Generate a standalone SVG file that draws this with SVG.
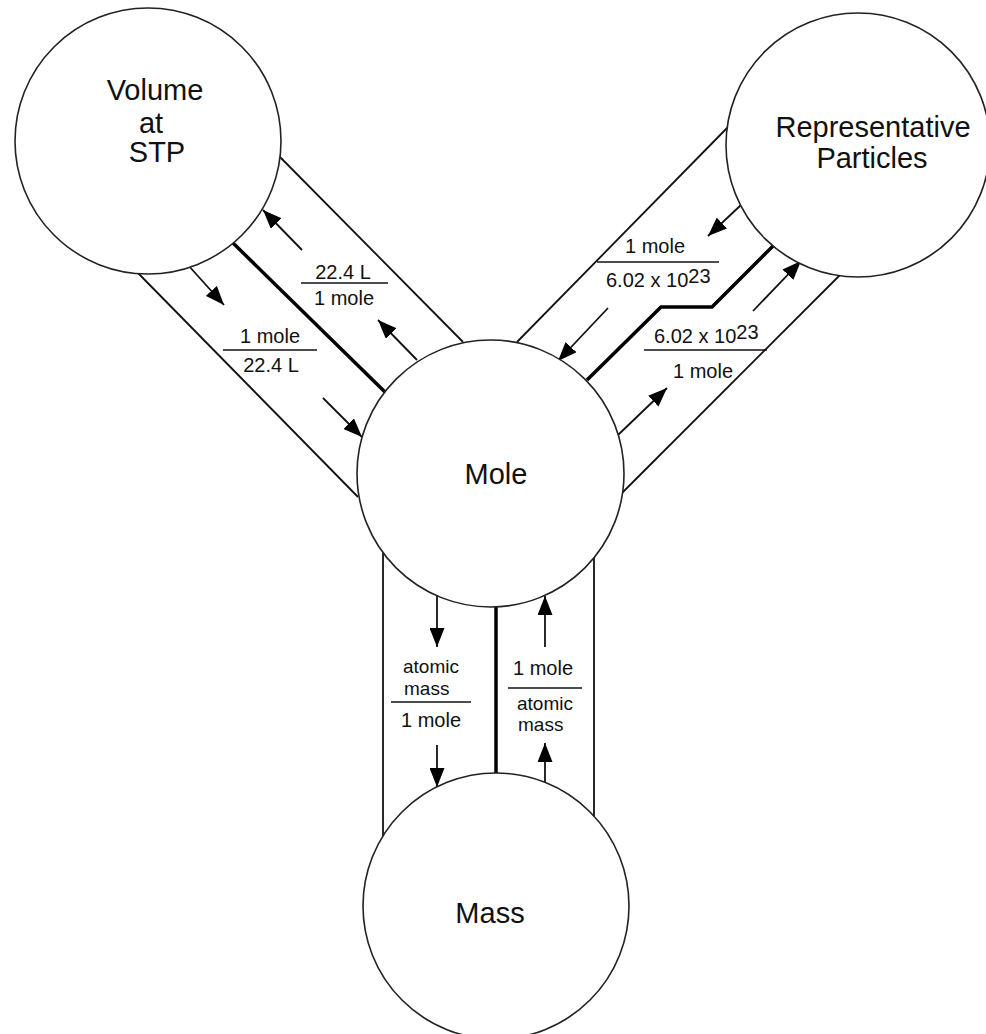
<svg xmlns="http://www.w3.org/2000/svg" width="986" height="1034" viewBox="0 0 986 1034">
<defs>
<marker id="ah" markerUnits="userSpaceOnUse" markerWidth="19" markerHeight="15" refX="19" refY="7.5" orient="auto">
<path d="M0,0 L19,7.5 L0,15 z" fill="#000"/>
</marker>
<style>
.node circle{fill:#fff;stroke:#222;stroke-width:1.6}
.nt{font-family:"Liberation Sans",Arial,sans-serif;font-size:29px;fill:#111;text-anchor:middle}
.lb{font-family:"Liberation Sans",Arial,sans-serif;font-size:20px;fill:#111}
.sm{font-family:"Liberation Sans",Arial,sans-serif;font-size:19px;fill:#111}
.c{text-anchor:middle}
.wall{stroke:#111;stroke-width:1.8;fill:none}
.thick{stroke:#000;stroke-width:3.5;fill:none}
.arr{stroke:#111;stroke-width:1.8;fill:none;marker-end:url(#ah)}
.frac{stroke:#111;stroke-width:1.6}
</style>
</defs>
<rect width="986" height="1034" fill="#fff"/>
<g id="connectors">
<!-- Volume - Mole channel -->
<line class="wall" x1="280" y1="157" x2="463" y2="342"/>
<line class="wall" x1="137" y1="272" x2="358" y2="497"/>
<line class="thick" x1="233" y1="243" x2="385" y2="392"/>
<line class="arr" x1="302" y1="250" x2="263" y2="210"/>
<line class="arr" x1="417" y1="360" x2="378" y2="320"/>
<line class="arr" x1="188" y1="265" x2="224" y2="305"/>
<line class="arr" x1="323" y1="398" x2="362" y2="437"/>
<!-- Representative Particles - Mole channel -->
<line class="wall" x1="517" y1="342" x2="728" y2="127"/>
<line class="wall" x1="622" y1="493" x2="840" y2="275"/>
<polyline class="thick" points="587,380 661,307 712,307 774,245"/>
<line class="arr" x1="741" y1="205" x2="708" y2="236"/>
<line class="arr" x1="608" y1="308" x2="558" y2="361"/>
<line class="arr" x1="618" y1="435" x2="667" y2="388"/>
<line class="arr" x1="753" y1="311" x2="801" y2="261"/>
<!-- Mole - Mass channel -->
<line class="wall" x1="383" y1="553" x2="383" y2="836"/>
<line class="wall" x1="594" y1="558" x2="594" y2="816"/>
<line class="thick" x1="496" y1="606" x2="496" y2="774"/>
<line class="arr" x1="437" y1="596" x2="437" y2="647"/>
<line class="arr" x1="437" y1="745" x2="437" y2="787"/>
<line class="arr" x1="545" y1="647" x2="545" y2="596"/>
<line class="arr" x1="545" y1="782" x2="545" y2="743"/>
</g>
<g id="labels">
<text class="lb c" x="343" y="279">22.4 L</text>
<line class="frac" x1="301" y1="283" x2="388" y2="283"/>
<text class="lb c" x="344" y="305">1 mole</text>
<text class="lb c" x="270" y="343">1 mole</text>
<line class="frac" x1="223" y1="350" x2="317" y2="350"/>
<text class="lb c" x="271" y="372">22.4 L</text>
<text class="lb c" x="655" y="253">1 mole</text>
<line class="frac" x1="597" y1="262" x2="719" y2="262"/>
<text class="lb" x="606" y="287">6.02 x 10<tspan dy="-4">23</tspan></text>
<text class="lb" x="654" y="343">6.02 x 10<tspan dy="-4">23</tspan></text>
<line class="frac" x1="644" y1="350" x2="767" y2="350"/>
<text class="lb c" x="703" y="378">1 mole</text>
<text class="sm" x="403" y="673">atomic</text>
<text class="sm" x="404" y="695">mass</text>
<line class="frac" x1="391" y1="702" x2="471" y2="702"/>
<text class="lb c" x="431" y="727">1 mole</text>
<text class="lb c" x="543" y="675">1 mole</text>
<line class="frac" x1="508" y1="688" x2="582" y2="688"/>
<text class="sm" x="517" y="710">atomic</text>
<text class="sm" x="518" y="731">mass</text>
</g>
<g id="volume" class="node">
<circle cx="148" cy="141" r="133"/>
<text class="nt" x="155" y="100">Volume</text>
<text class="nt" x="151" y="133">at</text>
<text class="nt" x="157" y="162">STP</text>
</g>
<g id="particles" class="node">
<circle cx="858" cy="145" r="132"/>
<text class="nt" x="873" y="137">Representative</text>
<text class="nt" x="872" y="168">Particles</text>
</g>
<g id="mole" class="node">
<circle cx="490.5" cy="473.5" r="133.5"/>
<text class="nt" x="496" y="484">Mole</text>
</g>
<g id="mass" class="node">
<circle cx="496" cy="906" r="133"/>
<text class="nt" x="490" y="923">Mass</text>
</g>
</svg>
